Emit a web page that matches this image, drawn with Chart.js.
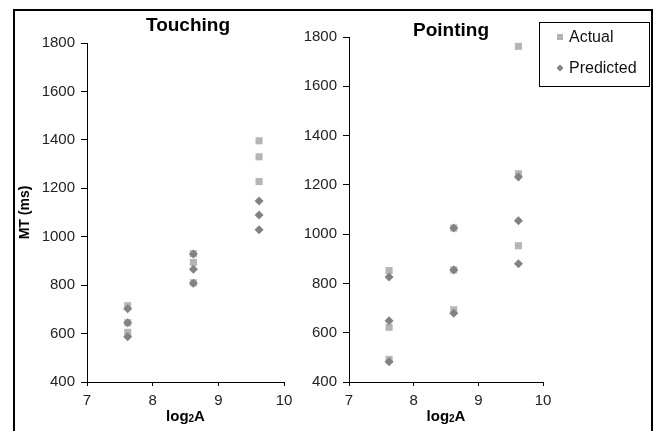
<!DOCTYPE html>
<html>
<head>
<meta charset="utf-8">
<script src="https://cdn.jsdelivr.net/npm/chart.js@4"></script>
<style>
  body { margin: 0; background: #fff; width: 656px; height: 431px; overflow: hidden; position: relative; }
  #frame { position: absolute; left: 13px; top: 9px; width: 636px; height: 440px; border: 2px solid #000; pointer-events: none; }
  #touching { position: absolute; left: 15px; top: 11px; }
  #pointing { position: absolute; left: 300px; top: 11px; }
</style>
</head>
<body>
<canvas id="touching" width="285" height="420"></canvas>
<canvas id="pointing" width="350" height="420"></canvas>
<div id="frame"></div>
<script>
// x positions (log2 A) shared by every series: three trials per level
const pointX = [7.62, 7.62, 7.62, 8.62, 8.62, 8.62, 9.62, 9.62, 9.62];

const touchingActual = [715, 645, 605, 930, 894, 810, 1396, 1330, 1228];
const touchingPredicted = [702, 645, 587, 929, 866, 808, 1148, 1090, 1029];

const pointingActual = [852, 622, 492, 1025, 855, 693, 1762, 1245, 953];
const pointingPredicted = [826, 649, 482, 1025, 854, 679, 1232, 1054, 880];

const xTicks = [7, 8, 9, 10];
const yTicks = [400, 600, 800, 1000, 1200, 1400, 1600, 1800];

const seriesLabels = ["Actual", "Predicted"];
const actualColor = "#b5b5b5";
const predictedColor = "#828282";
const FONT = "'Liberation Sans', Arial, sans-serif";

function toPoints(values) {
  return values.map((v, i) => ({ x: pointX[i], y: v }));
}

// draws the panel title at a fixed spot
const panelTitle = {
  id: "panelTitle",
  afterDraw(chart, args, opts) {
    const ctx = chart.ctx;
    ctx.save();
    ctx.font = "bold 19px " + FONT;
    ctx.fillStyle = "#000";
    ctx.textAlign = "center";
    ctx.textBaseline = "alphabetic";
    ctx.fillText(opts.text, opts.x, opts.y);
    ctx.restore();
  },
};

// x axis title with a subscript 2
const xTitle = {
  id: "xTitle",
  afterDraw(chart, args, opts) {
    const ctx = chart.ctx;
    const a = chart.chartArea;
    const cx = (a.left + a.right) / 2 + (opts.dx || 0);
    const y = opts.y;
    ctx.save();
    ctx.fillStyle = "#000";
    ctx.textBaseline = "alphabetic";
    ctx.font = "bold 15px " + FONT;
    const w1 = ctx.measureText("log").width;
    const w3 = ctx.measureText("A").width;
    ctx.font = "bold 10px " + FONT;
    const w2 = ctx.measureText("2").width;
    let x = cx - (w1 + w2 + w3) / 2;
    ctx.font = "bold 15px " + FONT;
    ctx.fillText("log", x, y);
    x += w1;
    ctx.font = "bold 10px " + FONT;
    ctx.fillText("2", x, y + 1);
    x += w2;
    ctx.font = "bold 15px " + FONT;
    ctx.fillText("A", x, y);
    ctx.restore();
  },
};

// boxed legend like the original
const boxLegend = {
  id: "boxLegend",
  afterDraw(chart, args, opts) {
    if (!opts.show) return;
    const ctx = chart.ctx;
    const b = opts.box;
    ctx.save();
    ctx.strokeStyle = "#000";
    ctx.lineWidth = 1;
    ctx.strokeRect(b.x + 0.5, b.y + 0.5, b.w, b.h);
    ctx.font = "16px " + FONT;
    ctx.textBaseline = "middle";
    const rows = [b.y + 15, b.y + 46];
    seriesLabels.forEach((label, i) => {
      const ds = chart.data.datasets.find((d) => d.label === label);
      const my = rows[i];
      const mx = b.x + 21;
      ctx.fillStyle = ds.backgroundColor;
      if (ds.pointStyle === "rect") {
        ctx.fillRect(mx - 3, my - 3, 6, 6);
      } else {
        ctx.beginPath();
        ctx.moveTo(mx, my - 3.5);
        ctx.lineTo(mx + 3.5, my);
        ctx.lineTo(mx, my + 3.5);
        ctx.lineTo(mx - 3.5, my);
        ctx.closePath();
        ctx.fill();
      }
      ctx.fillStyle = "#111";
      ctx.fillText(label, b.x + 30, my + 1);
    });
    ctx.restore();
  },
};

function makePanel(id, actual, predicted, o) {
  new Chart(document.getElementById(id), {
    type: "scatter",
    data: {
      datasets: [
        {
          label: "Actual",
          data: toPoints(actual),
          pointStyle: "rect",
          pointRadius: 5,
          backgroundColor: actualColor,
          borderWidth: 0,
          order: 2,
        },
        {
          label: "Predicted",
          data: toPoints(predicted),
          pointStyle: "rectRot",
          pointRadius: 4.5,
          backgroundColor: predictedColor,
          borderWidth: 0,
          order: 1,
        },
      ],
    },
    options: {
      responsive: false,
      animation: false,
      layout: { padding: { top: o.top, right: o.right, left: 0, bottom: 0 } },
      plugins: {
        legend: { display: false },
        tooltip: { enabled: false },
        panelTitle: o.title,
        xTitle: { y: 410 },
        boxLegend: { show: o.legend, box: { x: 239, y: 11, w: 110, h: 64 } },
      },
      scales: {
        x: {
          type: "linear",
          min: 7,
          max: 10,
          afterBuildTicks: (s) => {
            s.ticks = xTicks.map((v) => ({ value: v }));
          },
          afterFit: (s) => {
            s.height = 49;
          },
          grid: { drawOnChartArea: false, drawTicks: true, tickLength: 4, color: "#000" },
          border: { color: "#000", width: 1 },
          ticks: {
            color: "#222",
            font: { family: FONT, size: 15 },
            padding: 6,
            maxRotation: 0,
            callback: (v) => String(v),
          },
        },
        y: {
          min: 400,
          max: 1800,
          afterBuildTicks: (s) => {
            s.ticks = yTicks.map((v) => ({ value: v }));
          },
          afterFit: (s) => {
            s.width = o.yWidth;
          },
          grid: { drawOnChartArea: false, drawTicks: true, tickLength: 6, color: "#000" },
          border: { color: "#000", width: 1 },
          ticks: {
            color: "#222",
            font: { family: FONT, size: 15 },
            padding: 6,
            callback: (v) => String(v),
          },
          title: {
            display: o.yTitle,
            text: "MT (ms)",
            color: "#000",
            font: { family: FONT, size: 14, weight: "bold" },
            padding: { top: 2 },
          },
        },
      },
    },
    plugins: [panelTitle, xTitle, boxLegend],
  });
}

makePanel("touching", touchingActual, touchingPredicted, {
  top: 32,
  right: 16,
  yWidth: 72,
  yTitle: true,
  legend: false,
  title: { text: "Touching", x: 173, y: 20 },
});

makePanel("pointing", pointingActual, pointingPredicted, {
  top: 26,
  right: 107,
  yWidth: 49,
  yTitle: false,
  legend: true,
  title: { text: "Pointing", x: 151, y: 25 },
});
</script>
</body>
</html>
